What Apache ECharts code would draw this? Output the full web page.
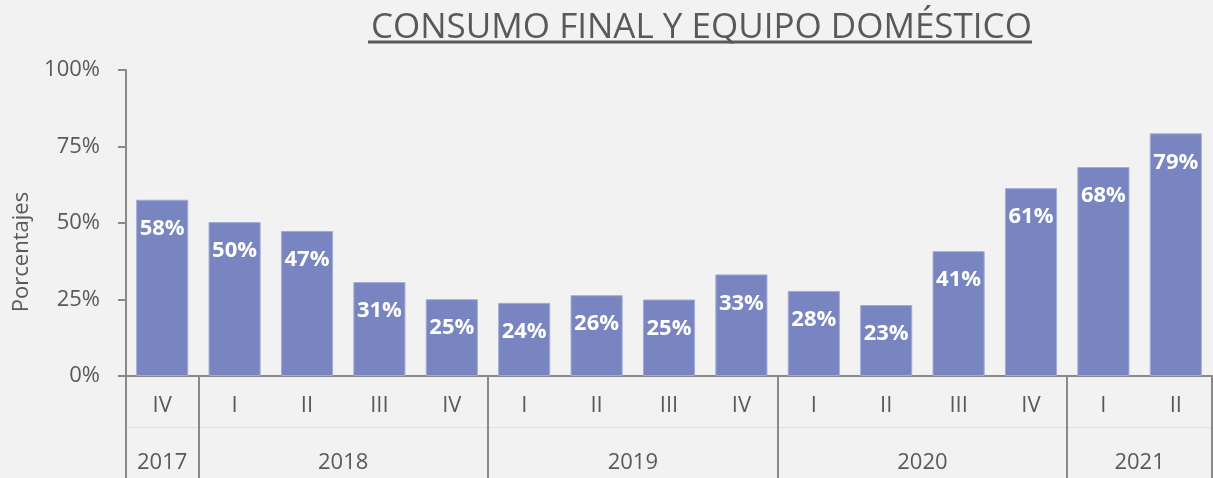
<!DOCTYPE html>
<html>
<head>
<meta charset="utf-8">
<script src="https://cdn.jsdelivr.net/npm/echarts@6/dist/echarts.min.js"></script>
<style>
  html, body { margin: 0; padding: 0; background: #f2f2f2; }
  #chart { width: 1213px; height: 478px; }
</style>
</head>
<body>
<div id="chart"></div>
<script>
// trimestres y años
const quarters = ['IV', 'I', 'II', 'III', 'IV', 'I', 'II', 'III', 'IV', 'I', 'II', 'III', 'IV', 'I', 'II']
const years = ['2017', '2018', '2019', '2020', '2021']
const yearSpans = [1, 4, 4, 4, 2]
const values = [57.6, 50.3, 47.4, 30.7, 25.1, 23.9, 26.4, 25.0, 33.2, 27.8, 23.2, 40.8, 61.4, 68.3, 79.3]
const yTicks = [0, 25, 50, 75, 100]

const textColor = '#595959'
const axisColor = '#898989'
const font = 'Open Sans'

// límites y centros de cada año sobre el eje de valores 0..n
const bounds = [0]
yearSpans.forEach(s => bounds.push(bounds[bounds.length - 1] + s))
const yearCenters = years.map((y, i) => (bounds[i] + bounds[i + 1]) / 2)

const chart = echarts.init(document.getElementById('chart'))
chart.setOption({
  backgroundColor: '#f2f2f2',
  animation: false,
  title: {
    text: 'CONSUMO FINAL Y EQUIPO DOMÉSTICO',
    left: 366,
    top: 6,
    textStyle: { fontFamily: font, fontSize: 35, fontWeight: 'normal', color: textColor }
  },
  grid: { left: 126, right: 1, top: 70, bottom: 102, outerBoundsMode: 'none' },
  xAxis: [
    {
      type: 'category',
      data: quarters,
      axisLine: { lineStyle: { color: axisColor, width: 2 } },
      axisTick: { show: false },
      axisLabel: { color: textColor, fontFamily: font, fontSize: 22, margin: 19 }
    },
    {
      type: 'value',
      min: 0,
      max: quarters.length,
      position: 'bottom',
      offset: 102,
      splitLine: { show: false },
      axisLine: { show: false },
      axisTick: {
        show: true,
        inside: true,
        length: 102,
        customValues: bounds,
        lineStyle: { color: axisColor, width: 2 }
      },
      axisLabel: {
        inside: true,
        margin: 4,
        customValues: yearCenters,
        formatter: v => years[yearCenters.indexOf(v)] || '',
        color: textColor, fontFamily: font, fontSize: 22
      }
    },
    {
      type: 'value',
      min: 0,
      max: quarters.length,
      position: 'bottom',
      offset: 51,
      splitLine: { show: false },
      axisTick: { show: false },
      axisLabel: { show: false },
      axisLine: { show: true, lineStyle: { color: '#dedede', width: 1 } }
    }
  ],
  yAxis: {
    type: 'value',
    min: yTicks[0],
    max: yTicks[yTicks.length - 1],
    interval: 25,
    name: 'Porcentajes',
    nameLocation: 'middle',
    nameGap: 93,
    nameTextStyle: { color: textColor, fontFamily: font, fontSize: 22, padding: [0, 58, 0, 0] },
    splitLine: { show: false },
    axisLine: { show: true, lineStyle: { color: axisColor, width: 2 } },
    axisTick: { show: true, length: 8, lineStyle: { color: axisColor, width: 2 } },
    axisLabel: { formatter: '{value}%', color: textColor, fontFamily: font, fontSize: 22, margin: 26 }
  },
  graphic: [
    {
      type: 'line',
      shape: { x1: 368, y1: 42, x2: 1032, y2: 42 },
      style: { stroke: textColor, lineWidth: 3 }
    }
  ],
  series: [
    {
      type: 'bar',
      data: values,
      barWidth: '72%',
      itemStyle: { color: '#7985c1', borderColor: '#a3acd6', borderWidth: 1 },
      label: {
        show: true,
        position: 'insideTop',
        distance: 18,
        formatter: p => Math.round(p.value) + '%',
        color: '#ffffff',
        fontFamily: font,
        fontWeight: 'bold',
        fontSize: 22
      }
    }
  ]
})
</script>
</body>
</html>
